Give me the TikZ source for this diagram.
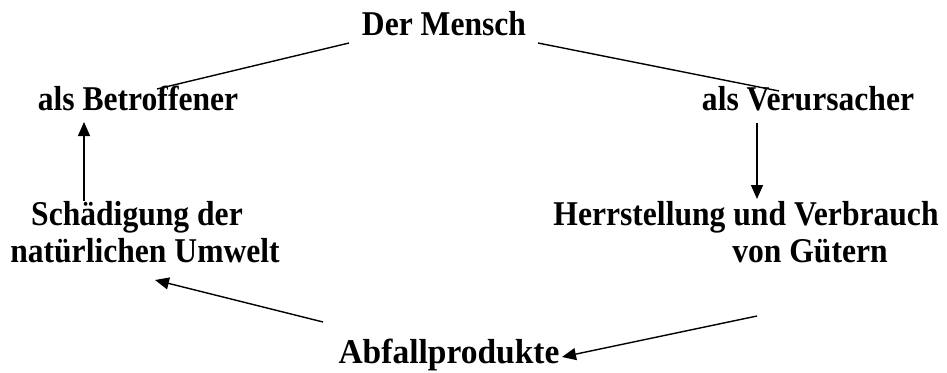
\documentclass[tikz,border=0pt]{standalone}
\usepackage{fontspec}
\setmainfont{Liberation Serif}
\usetikzlibrary{arrows.meta}
\newcommand\tallbox[2][1]{\scalebox{#1}[1.1]{#2}}
\begin{document}
\begin{tikzpicture}[x=1pt,y=-1pt,
  lbl/.style={font=\bfseries\fontsize{31.6}{37}\selectfont, inner sep=0pt, anchor=base},
  conn/.style={line width=1.4pt, black},
  arr/.style={conn, -{Triangle[length=14pt,width=12pt]}}]
\useasboundingbox (0,0) rectangle (947,372);
\node[lbl] (mensch) at (444,35) {\tallbox{Der Mensch}};
\node[lbl] (betr) at (138,110) {\tallbox{als Betroffener}};
\node[lbl] (veru) at (808,110) {\tallbox{als Verursacher}};
\node[lbl] (schad1) at (137,225) {\tallbox{Schädigung der}};
\node[lbl] (schad2) at (145,262) {\tallbox{natürlichen Umwelt}};
\node[lbl] (herr1) at (746,225) {\tallbox{Herrstellung und Verbrauch}};
\node[lbl] (herr2) at (810,262) {\tallbox{von Gütern}};
\node[lbl] (abf) at (449,363) {\tallbox[1.06]{Abfallprodukte}};
% connector end points
\coordinate (mL) at (349,43);
\coordinate (mR) at (538,43);
\coordinate (bT) at (157,89);
\coordinate (vT) at (779,91);
\coordinate (bA) at (84,122);
\coordinate (sA) at (84,201);
\coordinate (vA) at (757,123);
\coordinate (hA) at (757,199);
\coordinate (aL) at (323,322);
\coordinate (uA) at (155,280);
\coordinate (gA) at (757,316);
\coordinate (aR) at (562,357);
\draw[conn] (mL) -- (bT);
\draw[conn] (mR) -- (vT);
\draw[arr] (sA) -- (bA);
\draw[arr] (vA) -- (hA);
\draw[arr] (aL) -- (uA);
\draw[arr] (gA) -- (aR);
\end{tikzpicture}
\end{document}
